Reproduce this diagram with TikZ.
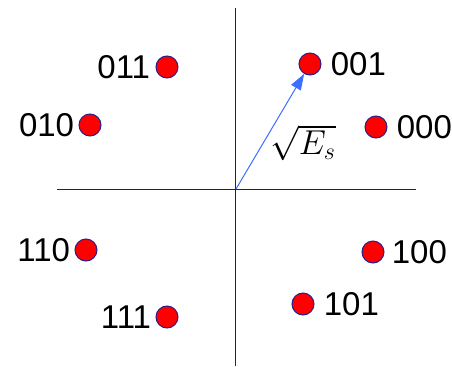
\documentclass[tikz,border=0pt]{standalone}
\usepackage{fontspec}
\setmainfont{Liberation Sans}
\usepackage{tikz}
\usetikzlibrary{arrows.meta,positioning,calc}

\begin{document}
\begin{tikzpicture}[x=0.5pt,y=0.5pt,
  symbol/.style={circle,fill=red,draw={rgb,255:red,40;green,30;blue,140},line width=0.5pt,minimum size=11pt,inner sep=0pt},
  bits/.style={font=\fontsize{16.5}{18}\selectfont,inner sep=0pt}]
  \useasboundingbox (-236,-177) rectangle (216,189); % Bildrahmen
  \draw[line width=0.5pt,black!85] (0,181) -- (0,-177); % Imaginaerteil-Achse
  \draw[line width=0.5pt,black!85] (-179,0) -- (180,0); % Realteil-Achse
  \node[symbol] (s000) at (140,62) {};
  \node[symbol] (s001) at (74,125) {};
  \node[symbol] (s011) at (-69,122) {};
  \node[symbol] (s010) at (-146,64) {};
  \node[symbol] (s110) at (-150,-61) {};
  \node[symbol] (s111) at (-69,-128) {};
  \node[symbol] (s101) at (67,-115) {};
  \node[symbol] (s100) at (137,-63) {};
  \coordinate (o) at (0,0);
  \node[bits,right=4.5pt of s000] (l000) {000};
  \node[bits,right=4.5pt of s001] (l001) {001};
  \node[bits,left=2.5pt of s011] (l011) {011};
  \node[bits,left=2pt of s010] (l010) {010};
  \node[bits,left=2pt of s110] (l110) {110};
  \node[bits,left=2pt of s111] (l111) {111};
  \node[bits,right=4.5pt of s101] (l101) {101};
  \node[bits,right=3.5pt of s100] (l100) {100};
  \draw[-{Triangle[length=8pt,width=5.5pt]},line width=0.5pt,color={rgb,255:red,60;green,110;blue,255}] (o) -- (s001); % Signalvektor
  \node[font=\fontsize{18}{20}\selectfont] (es) at (67,46) {$\sqrt{E_s}$};
\end{tikzpicture}
\end{document}
